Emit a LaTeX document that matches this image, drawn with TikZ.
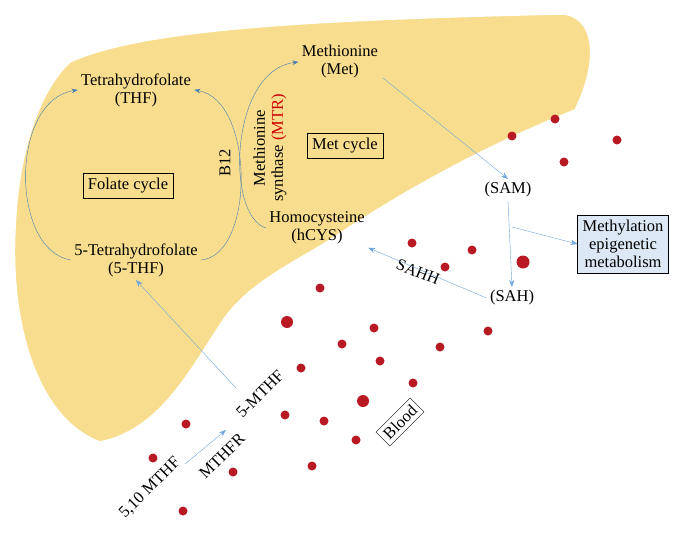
\documentclass[tikz,border=0pt]{standalone}
\usepackage{fontspec}
\setmainfont{Liberation Serif}
\usetikzlibrary{arrows.meta}
\begin{document}
\begin{tikzpicture}[x=1pt,y=-1pt,font=\fontsize{16.5}{18}\selectfont,
  txt/.style={align=center},
  bx/.style={draw,thin,inner sep=5pt},
  cyc/.style={draw={rgb,255:red,70;green,125;blue,180},thin,-{Stealth[length=6pt]}},
  flow/.style={draw={rgb,255:red,110;green,165;blue,220},thin,-{Stealth[length=7pt]}},
  cell/.style={circle,fill={rgb,255:red,185;green,25;blue,35},inner sep=0pt,minimum size=9pt}]

% GLOBAL SETTINGS
\definecolor{liver}{RGB}{249,221,142}
\definecolor{boxblue}{RGB}{220,232,245}
\useasboundingbox (0,0) rectangle (685,543);

% LIVER
\path[fill=liver,draw=white,line width=1.5pt]
 (70,62) .. controls (140,30) and (300,20) .. (560,14)
 .. controls (595,14) and (600,60) .. (575,110)
 .. controls (500,140) and (420,180) .. (330,240)
 .. controls (290,265) and (245,285) .. (220,325)
 .. controls (190,370) and (160,430) .. (100,442)
 .. controls (40,420) and (10,330) .. (15,230)
 .. controls (18,150) and (40,90) .. (70,62) -- cycle;

% blood cells
\path foreach \x/\y in {512/136,555/119,617/140,564/162,412/243,472/250,445/267,
  320/288,374/328,342/344,380/361,440/347,488/331,301/368,413/383,186/424,153/458,
  285/415,324/421,356/440,233/472,312/466,183/511} {
  (\x,\y) node[cell] (c\x) {}
};
\node[cell,minimum size=13pt] (big1) at (523,262) {};
\node[cell,minimum size=12pt] (big2) at (363,401) {};
\node[cell,minimum size=12pt] (big3) at (287,322) {};

% NODES
\node[txt] (THF) at (136,90) {Tetrahydrofolate\\(THF)};
\node[txt] (FTHF) at (136,260) {5-Tetrahydrofolate\\(5-THF)};
\node[txt] (Met) at (340,62) {Methionine\\(Met)};
\node[txt] (hCYS) at (317,228) {Homocysteine\\(hCYS)};
\node[bx] (Fol) at (128,186) {Folate cycle};
\node[bx] (MetC) at (345,146) {Met cycle};
\node[rotate=90] (B12) at (225,163) {B12};
\node[rotate=90,txt] (MTR) at (270,148) {Methionine\\synthase \textcolor{red!80!black}{(MTR)}};
\node (SAM) at (508,190) {(SAM)};
\node (SAH) at (512,298) {(SAH)};
\node[bx,fill=boxblue,txt,inner sep=5pt] (Methyl) at (623,244) {Methylation\\epigenetic\\metabolism};
\node[rotate=-22] (SAHH) at (418,272) {SAHH};
\node[bx,rotate=45,inner sep=4pt] (Blood) at (400,422) {Blood};
\node[rotate=45] (MTHF) at (260,394) {5-MTHF};
\node[rotate=45] (MTHFR) at (222,456) {MTHFR};
\node[rotate=45] (MTHFa) at (150,488) {5,10 MTHF};

% EDGES
\draw[cyc] (FTHF.west) .. controls (10,250) and (10,100) .. (THF.west);
\draw[cyc] (FTHF.east) .. controls (255,255) and (255,100) .. (THF.east);
\draw[cyc] (hCYS.west) .. controls (225,215) and (230,70) .. (Met.west);
\draw[flow] (383,78) -- (SAM.north);
\draw[flow] (SAM.south) -- (SAH.north);
\draw[flow] (512,227) -- (Methyl.west);
\draw[flow] (SAH.west) -- (hCYS.south east);
\draw[flow] (236,388) -- (FTHF.south);
\draw[flow] (185,464) -- (226,430);

\end{tikzpicture}
\end{document}
